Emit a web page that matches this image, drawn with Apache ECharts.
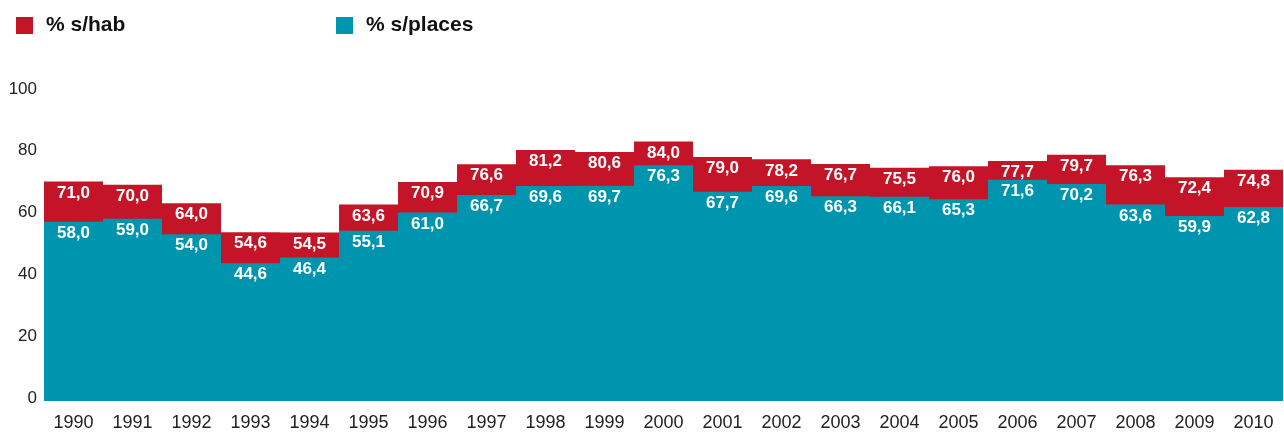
<!DOCTYPE html>
<html>
<head>
<meta charset="utf-8">
<script src="https://cdn.jsdelivr.net/npm/echarts@6/dist/echarts.min.js"></script>
<style>
  html, body { margin: 0; padding: 0; background: #fff; }
  #chart { width: 1284px; height: 433px; }
</style>
</head>
<body>
<div id="chart"></div>
<script>
var years = ['1990', '1991', '1992', '1993', '1994', '1995', '1996', '1997', '1998', '1999', '2000',
             '2001', '2002', '2003', '2004', '2005', '2006', '2007', '2008', '2009', '2010'];
var perHab = [71.0, 70.0, 64.0, 54.6, 54.5, 63.6, 70.9, 76.6, 81.2, 80.6, 84.0,
              79.0, 78.2, 76.7, 75.5, 76.0, 77.7, 79.7, 76.3, 72.4, 74.8];
var perPlaces = [58.0, 59.0, 54.0, 44.6, 46.4, 55.1, 61.0, 66.7, 69.6, 69.7, 76.3,
                 67.7, 69.6, 66.3, 66.1, 65.3, 71.6, 70.2, 63.6, 59.9, 62.8];

var RED = '#c41528';
var TEAL = '#0095ae';
var FONT = '"Liberation Sans", Arial, sans-serif';

function fmt(p) {
    return p.value.toFixed(1).replace('.', ',');
}

var barLabel = {
    show: true,
    position: 'insideTop',
    distance: 3,
    color: '#fff',
    fontFamily: FONT,
    fontWeight: 'bold',
    fontSize: 17,
    formatter: fmt
};

var legendText = { fontFamily: FONT, fontWeight: 'bold', fontSize: 21, color: '#111', padding: [0, 0, 0, 8] };

var chart = echarts.init(document.getElementById('chart'));
var option = {
    animation: false,
    legend: [{
        data: ['% s/hab'],
        left: 11, top: 10,
        icon: 'rect', itemWidth: 17, itemHeight: 17, itemGap: 0,
        textStyle: legendText
    }, {
        data: ['% s/places'],
        left: 331, top: 10,
        icon: 'rect', itemWidth: 17, itemHeight: 17, itemGap: 0,
        textStyle: legendText
    }],
    // 21 * 59 = 1239 px wide so bar edges fall on whole pixels
    grid: { left: 44, right: 1, top: 92, bottom: 32, containLabel: false },
    xAxis: {
        type: 'category',
        data: years,
        axisLine: { show: false },
        axisTick: { show: false },
        axisLabel: { color: '#222', fontFamily: FONT, fontSize: 18, margin: 13 }
    },
    yAxis: {
        type: 'value',
        min: 0, max: 100, interval: 20,
        splitLine: { show: false },
        axisLine: { show: false },
        axisTick: { show: false },
        axisLabel: { color: '#222', fontFamily: FONT, fontSize: 17, margin: 7, verticalAlign: 'bottom', lineHeight: 6 }
    },
    series: [{
        name: '% s/hab',
        type: 'bar',
        data: perHab,
        barCategoryGap: 0,
        barGap: '-100%',
        itemStyle: { color: RED },
        label: barLabel,
        z: 1
    }, {
        name: '% s/places',
        type: 'bar',
        data: perPlaces,
        barCategoryGap: 0,
        barGap: '-100%',
        itemStyle: { color: TEAL },
        label: barLabel,
        z: 2
    }]
};
chart.setOption(option);
window.onresize = chart.resize;
</script>
</body>
</html>
